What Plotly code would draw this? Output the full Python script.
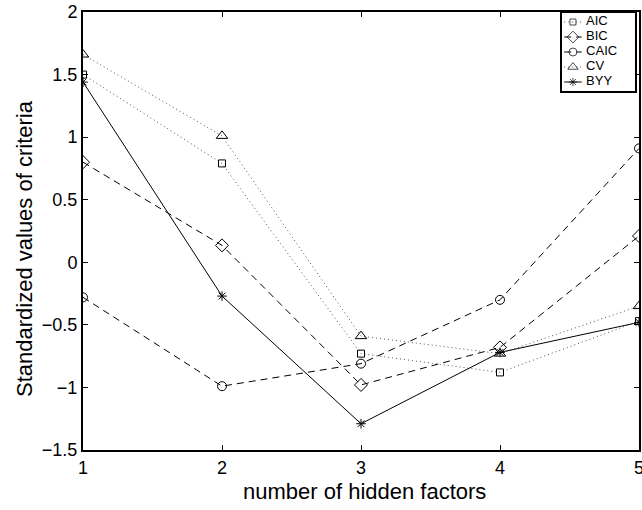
import plotly.graph_objects as go

factors = [1, 2, 3, 4, 5]
aic = [1.50, 0.79, -0.73, -0.88, -0.47]
bic = [0.80, 0.135, -0.98, -0.68, 0.21]
caic = [-0.28, -0.99, -0.81, -0.30, 0.91]
cv = [1.66, 1.01, -0.59, -0.73, -0.35]
byy = [1.44, -0.27, -1.29, -0.72, -0.48]
names = ["AIC", "BIC", "CAIC", "CV", "BYY"]
values = [aic, bic, caic, cv, byy]

styles = {
    "AIC": dict(dash="1px,3px", sym="square-open", size=7, lc="#555"),
    "BIC": dict(dash="7px,5px", sym="diamond-open", size=10, lc="black"),
    "CAIC": dict(dash="7px,5px", sym="circle-open", size=9, lc="black"),
    "CV": dict(dash="1px,3px", sym="triangle-up-open", size=10, lc="#555"),
    "BYY": dict(dash="solid", sym="asterisk-open", size=8, lc="black"),
}

FONT = "Liberation Sans, Arial, Helvetica"
fig = go.Figure()
for name, vals in zip(names, values):
    s = styles[name]
    fig.add_trace(go.Scatter(
        x=factors, y=vals, name=name, mode="lines+markers", showlegend=False,
        line=dict(color=s["lc"], width=1, dash=s["dash"]),
        marker=dict(symbol=s["sym"], size=s["size"], color="black",
                    line=dict(color="black", width=1)),
    ))

# custom compact legend in an inset axis (MATLAB style)
for i, name in enumerate(names):
    s = styles[name]
    row = len(names) - 1 - i
    fig.add_trace(go.Scatter(
        x=[0.3, 1.5, 2.7], y=[row, row, row], mode="lines+markers",
        xaxis="x2", yaxis="y2", showlegend=False, hoverinfo="skip",
        line=dict(color=s["lc"], width=1, dash=s["dash"]),
        marker=dict(symbol=s["sym"], size=[0, s["size"] - 1, 0], color="black",
                    line=dict(color="black", width=1)),
    ))
    fig.add_trace(go.Scatter(
        x=[3.3], y=[row], mode="text", text=[name], textposition="middle right",
        xaxis="x2", yaxis="y2", showlegend=False, hoverinfo="skip",
        textfont=dict(family=FONT, size=13, color="black"),
    ))

axis_common = dict(
    showline=True, linecolor="black", linewidth=2, mirror="ticks",
    ticks="inside", ticklen=5, tickcolor="black", tickwidth=1,
    showgrid=False, zeroline=False, automargin=False,
    ticklabeloverflow="allow",
    tickfont=dict(family=FONT, size=18, color="black"),
)

plot_l, plot_r, plot_t, plot_b = 83, 639, 12, 450
W, H = 642, 510
pw, ph = plot_r - plot_l, plot_b - plot_t

def px_x(p):
    return (p - plot_l) / pw

def px_y(p):
    return (plot_b - p) / ph

fig.update_layout(
    width=W, height=H,
    margin=dict(l=plot_l, r=W - plot_r, t=plot_t, b=H - plot_b),
    paper_bgcolor="white", plot_bgcolor="white",
    font=dict(family=FONT, color="black"),
    xaxis=dict(range=[1, 5], tickvals=factors, **axis_common),
    yaxis=dict(range=[-1.5, 2], dtick=0.5, **axis_common),
    xaxis2=dict(domain=[px_x(562), px_x(635)], range=[0, 10], anchor="y2",
                showline=True, linecolor="black", linewidth=2, mirror=True,
                showticklabels=False, ticks="", showgrid=False, zeroline=False,
                fixedrange=True),
    yaxis2=dict(domain=[px_y(91), px_y(13)], range=[-0.6, 4.6], anchor="x2",
                showline=True, linecolor="black", linewidth=2, mirror=True,
                showticklabels=False, ticks="", showgrid=False, zeroline=False,
                fixedrange=True),
    annotations=[
        dict(text="number of hidden factors", xref="paper", yref="paper",
             x=px_x(364), y=px_y(491), xanchor="center", yanchor="middle",
             showarrow=False, font=dict(family=FONT, size=22, color="black")),
        dict(text="Standardized values of criteria", xref="paper", yref="paper",
             x=px_x(25), y=px_y(249), xanchor="center", yanchor="middle",
             textangle=-90, showarrow=False,
             font=dict(family=FONT, size=22, color="black")),
    ],
    showlegend=False,
)

fig.write_html("out.html")
